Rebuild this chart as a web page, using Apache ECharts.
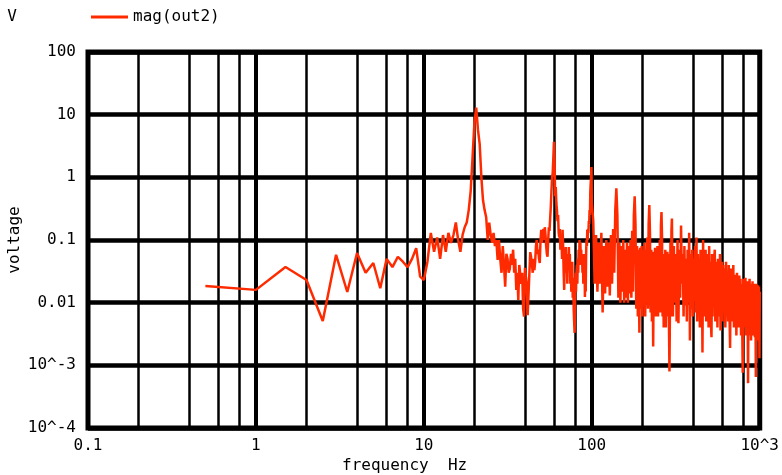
<!DOCTYPE html>
<html><head><meta charset="utf-8">
<script src="https://cdn.jsdelivr.net/npm/echarts@6/dist/echarts.min.js"></script>
<style>html,body{margin:0;padding:0;background:#fff}#c{width:782px;height:475px}</style>
</head><body><div id="c"></div>
<script>
// ---- data (frequency Hz, magnitude V) ----
const freqA=[0.5,1,1.5,2,2.5,3,3.5,4,4.5,5,5.5,6,6.5,7,7.5,8,8.5,9,9.5,10];
const magA=[0.0185,0.016,0.037,0.023,0.0051,0.058,0.0148,0.062,0.03,0.043,0.017,0.05,0.037,0.054,0.045,0.037,0.05,0.074,0.026,0.023];

const freqB=[10.5,11,11.5,12,12.5,13,13.5,14,14.5,15,15.5,16,16.5,17,17.5,18,18.5,19,19.5,20,20.5,21,21.5,22,22.5,23,23.5,24,24.5,25,25.5,26,26.5,27,27.5,28,28.5,29,29.5,30,30.5,31,31.5,32,32.5,33,33.5,34,34.5,35,35.5];
const magB=[0.045,0.13,0.065,0.11,0.05,0.12,0.065,0.13,0.09,0.12,0.19,0.1,0.065,0.12,0.16,0.19,0.3,0.6,2.1,7.5,13,5.7,3.4,1.0,0.43,0.3,0.23,0.1,0.19,0.12,0.09,0.13,0.08,0.1,0.048,0.1,0.05,0.03,0.08,0.04,0.018,0.06,0.05,0.03,0.035,0.06,0.04,0.07,0.03,0.05,0.016];

const freqC=[36,36.5,37,37.5,38,38.5,39,39.5,40,40.5,41,41.5,42,42.5,43,43.5,44,44.5,45,45.5,46,46.5,47,47.5,48,48.5,49,49.5,50,50.5,51,51.5,52,52.5,53,53.5,54,54.5,55,55.5,56,56.5,57,57.5,58,58.5,59,59.5,60];
const magC=[0.03,0.011,0.04,0.043,0.02,0.03,0.008,0.006,0.036,0.026,0.02,0.0063,0.006,0.03,0.064,0.054,0.04,0.03,0.05,0.033,0.045,0.08,0.1,0.06,0.07,0.05,0.043,0.1,0.145,0.09,0.12,0.15,0.1,0.16,0.12,0.08,0.06,0.054,0.1,0.16,0.14,0.22,0.34,0.6,1.0,1.17,2.0,3.7,1.8];

const freqD=[60.5,61,61.5,62,62.5,63,63.5,64,64.5,65,65.5,66,66.5,67,67.5,68,68.5,69,69.5,70,70.5,71,71.5,72,72.5,73,73.5,74,74.5,75,75.5,76,76.5,77,77.5,78,78.5,79,79.5,80,80.5,81,81.5,82,82.5,83,83.5,84,84.5,85,85.5,86,86.5,87,87.5,88,88.5,89,89.5,90,90.5,91,91.5,92,92.5,93,93.5,94,94.5,95,95.5,96,96.5,97,97.5,98,98.5,99,99.5,100];
const magD=[0.5,0.7,0.39,0.3,0.2,0.25,0.13,0.11,0.15,0.07,0.12,0.1,0.05,0.145,0.08,0.03,0.016,0.06,0.04,0.077,0.03,0.05,0.02,0.06,0.035,0.077,0.04,0.06,0.02,0.043,0.015,0.03,0.045,0.012,0.025,0.008,0.005,0.0033,0.01,0.03,0.015,0.03,0.04,0.02,0.05,0.03,0.07,0.04,0.1,0.06,0.09,0.05,0.07,0.04,0.06,0.03,0.054,0.02,0.05,0.03,0.06,0.0123,0.04,0.015,0.06,0.1,0.08,0.145,0.1,0.15,0.13,0.2,0.18,0.3,0.25,0.6,0.8,1.0,1.46,0.4];

const freqE=[102,104,106,108,110,112,114,116,118,120,122,124,126,128,130,132,134,136,138,140,142,144,146,148,150,152,154,156,158,160,162,164,166,168,170,172,174,176,178,180,182,184,186,188,190,192,194,196,198,200,202,204,206,208,210,212,214,216,218,220,222,224,226,228,230,232,234,236,238,240,242,244,246,248,250,252,254,256,258,260,262,264,266,268,270,272,274,276,278,280,282,284,286,288,290,292,294,296,298,300];
const magE=[0.2,0.02,0.12,0.015,0.09,0.02,0.13,0.007,0.08,0.014,0.1,0.018,0.09,0.013,0.12,0.02,0.15,0.03,0.3,0.67,0.25,0.012,0.09,0.01,0.08,0.015,0.1,0.01,0.07,0.012,0.09,0.01,0.08,0.014,0.1,0.012,0.14,0.015,0.25,0.5,0.18,0.008,0.08,0.006,0.07,0.0033,0.075,0.008,0.08,0.006,0.07,0.009,0.09,0.006,0.07,0.01,0.11,0.008,0.18,0.36,0.13,0.007,0.07,0.005,0.065,0.002,0.06,0.007,0.075,0.006,0.065,0.008,0.08,0.006,0.06,0.009,0.1,0.007,0.17,0.28,0.11,0.006,0.06,0.004,0.055,0.006,0.07,0.004,0.05,0.006,0.065,0.007,0.06,0.005,0.0008,0.008,0.09,0.006,0.14,0.22];

const freqF=[304,308,312,316,320,324,328,332,336,340,344,348,352,356,360,364,368,372,376,380,384,388,392,396,400,404,408,412,416,420,424,428,432,436,440,444,448,452,456,460,464,468,472,476,480,484,488,492,496,500,504,508,512,516,520,524,528,532,536,540,544,548,552,556,560,564,568,572,576,580,584,588,592,596,600];
const magF=[0.006,0.08,0.01,0.06,0.005,0.1,0.0047,0.07,0.012,0.17,0.02,0.06,0.006,0.08,0.009,0.05,0.005,0.07,0.01,0.13,0.0025,0.06,0.008,0.07,0.006,0.05,0.012,0.08,0.007,0.11,0.005,0.06,0.01,0.05,0.004,0.07,0.008,0.06,0.0016,0.1,0.006,0.05,0.009,0.07,0.005,0.04,0.008,0.06,0.004,0.08,0.007,0.045,0.005,0.0028,0.06,0.006,0.04,0.009,0.055,0.07,0.005,0.045,0.007,0.035,0.004,0.05,0.006,0.04,0.008,0.06,0.0036,0.035,0.006,0.045,0.005];

const freqG=[606,612,618,624,630,636,642,648,654,660,666,672,678,684,690,696,702,708,714,720,726,732,738,744,750,756,762,768,774,780,786,792,798,804,810,816,822,828,834,840,846,852,858,864,870,876,882,888,894,900,906,912,918,924,930,936,942,948,954,960,966,972,978,984,990,996,1000];
const magG=[0.04,0.007,0.035,0.004,0.045,0.006,0.03,0.005,0.04,0.008,0.0019,0.035,0.005,0.03,0.007,0.04,0.004,0.028,0.006,0.025,0.003,0.03,0.005,0.022,0.004,0.027,0.006,0.024,0.003,0.02,0.005,0.00076,0.024,0.004,0.02,0.006,0.025,0.003,0.018,0.004,0.022,0.00052,0.02,0.003,0.024,0.005,0.018,0.0025,0.02,0.004,0.022,0.003,0.017,0.005,0.02,0.0028,0.018,0.00065,0.02,0.003,0.016,0.004,0.019,0.0025,0.018,0.0013,0.015];

// tick labels indexed by decade exponent
const xTickLabels={'-1':'0.1','0':'1','1':'10','2':'100','3':'10^3'};
const yTickLabels={'-4':'10^-4','-3':'10^-3','-2':'0.01','-1':'0.1','0':'1','1':'10','2':'100'};
const minorFreqs=[0.2,0.4,0.6,0.8,2,4,6,8,20,40,60,80,200,400,600,800];

const freqs=[].concat(freqA,freqB,freqC,freqD,freqE,freqF,freqG);
const mags=[].concat(magA,magB,magC,magD,magE,magF,magG);
const data=freqs.map((f,i)=>[f,mags[i]]);

const FONT='"DejaVu Sans Mono", monospace';
const RED='#ff2a00';
const chart=echarts.init(document.getElementById('c'),null,{renderer:'canvas'});
chart.setOption({
  animation:false,
  backgroundColor:'#fff',
  grid:{left:88,right:19,top:52,bottom:47,show:true,borderColor:'#000',borderWidth:5,backgroundColor:'#fff'},
  legend:{left:86,top:4,icon:'rect',itemWidth:37,itemHeight:3,data:['mag(out2)'],
    textStyle:{fontFamily:FONT,fontSize:16,color:'#000'}},
  xAxis:{type:'log',logBase:10,min:0.1,max:1000,splitNumber:4,
    axisLine:{show:false},axisTick:{show:false},
    axisLabel:{show:true,showMinLabel:true,showMaxLabel:true,margin:10,color:'#000',fontFamily:FONT,fontSize:16,
      formatter:v=>xTickLabels[String(Math.round(Math.log10(v)))]||''},
    splitLine:{show:true,lineStyle:{color:'#000',width:4}}},
  yAxis:{type:'log',logBase:10,min:0.0001,max:100,splitNumber:6,
    axisLine:{show:false},axisTick:{show:false},
    axisLabel:{show:true,showMinLabel:true,showMaxLabel:true,margin:12,color:'#000',fontFamily:FONT,fontSize:16,
      formatter:v=>yTickLabels[String(Math.round(Math.log10(v)))]||''},
    splitLine:{show:true,lineStyle:{color:'#000',width:4.5}}},
  graphic:[
    {type:'text',x:12,y:17,style:{text:'V',fontFamily:FONT,fontSize:16,fill:'#000',align:'center',verticalAlign:'middle'}},
    {type:'text',x:15,y:240,rotation:Math.PI/2,style:{text:'voltage',fontFamily:FONT,fontSize:16,fill:'#000',align:'center',verticalAlign:'middle'}},
    {type:'text',x:342,y:466,style:{text:'frequency  Hz',fontFamily:FONT,fontSize:16,fill:'#000',align:'left',verticalAlign:'middle'}}
  ],
  series:[{
    type:'line',name:'mag(out2)',data:data,symbol:'none',showSymbol:false,z:3,
    lineStyle:{color:RED,width:2.5},itemStyle:{color:RED},
    markLine:{silent:true,z:1,symbol:['none','none'],label:{show:false},animation:false,
      lineStyle:{color:'#000',width:2.5,type:'solid'},
      emphasis:{disabled:true},
      data:minorFreqs.map(f=>({xAxis:f}))}
  }]
});
</script></body></html>
